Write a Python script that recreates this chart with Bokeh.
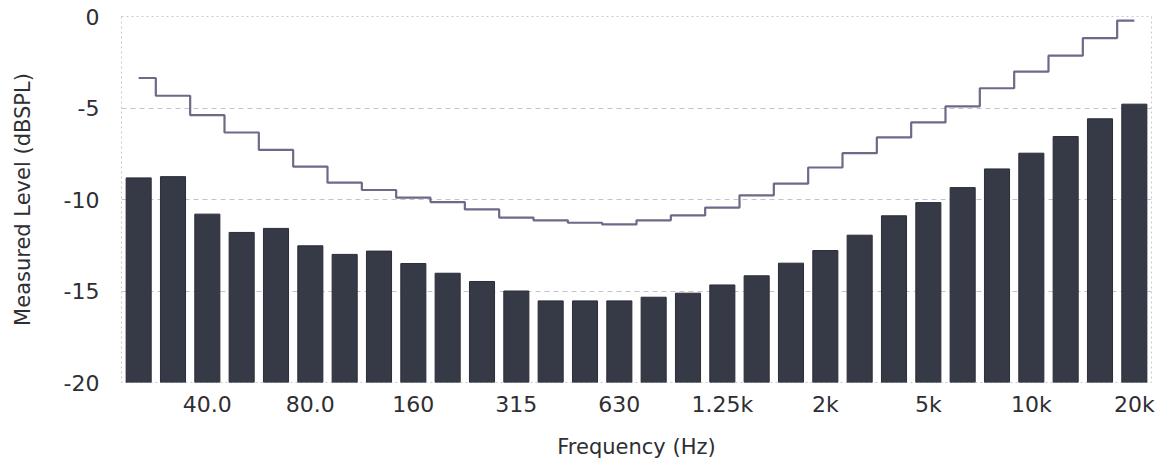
from bokeh.plotting import figure
from bokeh.models import Range1d, FixedTicker
from bokeh.embed import file_html
from bokeh.resources import INLINE

bands = ["25", "31.5", "40", "50", "63", "80", "100", "125", "160", "200",
         "250", "315", "400", "500", "630", "800", "1k", "1.25k", "1.6k", "2k",
         "2.5k", "3.15k", "4k", "5k", "6.3k", "8k", "10k", "12.5k", "16k", "20k"]
levels = [-8.82, -8.75, -10.8, -11.8, -11.58, -12.53, -13.0, -12.82, -13.5, -14.03,
          -14.48, -15.0, -15.54, -15.54, -15.54, -15.34, -15.12, -14.67, -14.17, -13.48,
          -12.79, -11.95, -10.89, -10.17, -9.35, -8.33, -7.47, -6.56, -5.59, -4.79]
threshold = [-3.36, -4.33, -5.39, -6.34, -7.29, -8.2, -9.08, -9.48, -9.9, -10.14,
             -10.54, -10.99, -11.14, -11.27, -11.36, -11.14, -10.87, -10.44, -9.77, -9.13,
             -8.25, -7.47, -6.61, -5.79, -4.91, -3.92, -3.01, -2.14, -1.18, -0.22]
tick_bands = ["40", "80", "160", "315", "630", "1.25k", "2.5k", "5k", "10k", "20k"]
tick_labels = ["40.0", "80.0", "160", "315", "630", "1.25k", "2k", "5k", "10k", "20k"]
y_ticks = [0, -5, -10, -15, -20]
y_tick_labels = ["0", "-5", "-10", "-15", "-20"]

idx = list(range(len(bands)))
FONT = "DejaVu Sans"
TXT = "#2e2e33"

p = figure(width=1155, height=461, output_backend="svg", toolbar_location=None,
           x_range=Range1d(-0.5, len(bands) - 0.5), y_range=Range1d(-20, 0),
           min_border_left=121, min_border_right=4, min_border_top=16, min_border_bottom=10)

p.vbar(x=idx, top=levels, bottom=-20, width=0.73, fill_color="#363946", line_color="#2a2c36")
p.step(x=idx, y=threshold, mode="center", line_color="#6c6a86", line_width=2.2)

p.background_fill_color = "white"
p.border_fill_color = "white"
p.outline_line_color = "#c8c8d2"
p.outline_line_dash = "2 3"

p.xgrid.grid_line_color = None
p.ygrid.grid_line_color = "#b4b4c4"
p.ygrid.grid_line_dash = "5 4"
p.ygrid.grid_line_alpha = 0.8

p.xaxis.ticker = FixedTicker(ticks=[bands.index(b) for b in tick_bands])
p.xaxis.major_label_overrides = {bands.index(b): l for b, l in zip(tick_bands, tick_labels)}
p.yaxis.ticker = FixedTicker(ticks=y_ticks)
p.yaxis.major_label_overrides = {t: l for t, l in zip(y_ticks, y_tick_labels)}

p.xaxis.axis_label = "Frequency (Hz)"
p.yaxis.axis_label = "Measured Level (dBSPL)"

for ax in (p.xaxis, p.yaxis):
    ax.axis_line_color = None
    ax.major_tick_line_color = None
    ax.minor_tick_line_color = None
    ax.major_tick_out = 0
    ax.major_tick_in = 0
    ax.minor_tick_out = 0
    ax.major_label_text_font = FONT
    ax.major_label_text_font_size = "22px"
    ax.major_label_text_color = TXT
    ax.axis_label_text_font = FONT
    ax.axis_label_text_font_size = "21px"
    ax.axis_label_text_font_style = "normal"
    ax.axis_label_text_color = TXT

p.xaxis.major_label_standoff = 9
p.xaxis.axis_label_standoff = 15
p.yaxis.major_label_standoff = 22
p.yaxis.axis_label_standoff = 26

open("out.html", "w").write(file_html(p, INLINE))
